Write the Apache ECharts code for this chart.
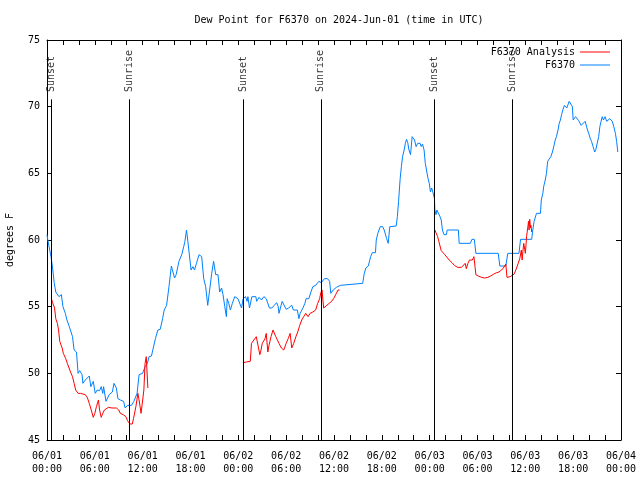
<!DOCTYPE html>
<html>
<head>
<meta charset="utf-8">
<script src="https://cdn.jsdelivr.net/npm/echarts@6/dist/echarts.min.js"></script>
<style>html,body{margin:0;padding:0;background:#fff}#c{width:640px;height:480px}</style>
</head>
<body>
<div id="c"></div>
<script>
// hours since 2024-06-01 00:00 UTC
var obsHours = [0.0,0.1,0.5,0.7,0.9,1.1,1.5,1.8,2.0,2.3,2.5,2.8,3.0,3.2,3.4,3.7,3.9,4.1,4.4,4.5,4.8,5.3,5.5,5.8,6.05,6.3,6.6,6.8,7.0,7.1,7.4,7.8,8.2,8.4,8.7,8.9,9.2,9.6,9.8,10.1,10.6,10.9,11.3,11.55,11.8,12.0,12.3,12.6,12.8,13.1,13.6,13.9,14.2,14.5,14.7,15.0,15.3,15.6,15.8,16.0,16.2,16.55,16.9,17.15,17.3,17.5,17.65,17.9,18.07,18.3,18.5,18.75,19.07,19.4,19.66,19.9,20.16,20.4,20.66,20.9,21.16,21.45,21.66,21.9,22.08,22.3,22.5,22.6,22.8,23.0,23.25,23.55,23.95,24.17,24.4,24.6,24.9,25.1,25.2,25.4,25.7,25.9,26.2,26.3,26.6,26.9,27.2,27.5,27.7,27.9,28.2,28.5,28.8,29.0,29.1,29.5,29.7,30.0,30.3,30.7,30.9,31.4,31.6,31.75,31.9,32.1,32.35,32.5,32.85,33.1,33.35,33.7,33.9,34.1,34.4,34.8,35.2,35.45,35.6,35.9,36.3,36.8,37.0,39.6,39.8,40.0,40.3,40.6,40.8,41.2,41.3,41.5,41.8,42.1,42.3,42.6,42.8,43.0,43.8,43.95,44.1,44.3,44.45,44.6,44.8,44.95,45.1,45.25,45.4,45.6,45.8,45.95,46.1,46.3,46.5,46.65,46.8,46.95,47.1,47.3,47.45,47.6,47.8,47.95,48.1,48.25,48.4,48.6,48.65,48.8,48.9,49.1,49.3,49.45,49.6,49.8,50.1,50.2,51.6,51.7,53.1,53.3,53.6,53.8,56.6,56.8,57.55,57.8,59.2,59.4,60.8,60.9,61.1,61.4,61.9,62.0,62.2,62.3,62.5,62.65,62.8,63.0,63.2,63.4,63.6,63.75,63.9,64.1,64.25,64.4,64.55,64.7,64.9,65.0,65.2,65.3,65.5,65.6,65.9,66.0,66.2,66.3,66.5,66.7,67.0,67.25,67.5,67.65,67.8,68.0,68.15,68.3,68.5,68.7,68.85,69.0,69.2,69.35,69.5,69.65,69.8,70.0,70.2,70.4,70.6,70.75,70.9,71.1,71.3,71.45,71.6];
var obsValues = [60.4,60.0,58.75,57.9,56.8,56.1,55.75,55.9,55.0,54.5,54.0,53.5,53.6,52.75,51.75,51.6,50.0,50.2,49.9,49.25,49.5,49.8,49.0,49.4,48.5,48.75,48.7,49.0,48.5,49.0,47.9,48.4,48.6,49.25,48.9,48.1,48.0,47.9,47.4,47.6,47.6,47.9,48.5,49.9,49.75,50.0,50.5,50.75,51.25,51.3,52.6,53.25,53.3,54.1,54.75,55.1,56.5,58.05,58.0,57.15,57.4,58.4,58.9,59.5,59.9,60.75,60.0,60.1,57.75,58.0,57.75,58.25,58.9,58.75,57.1,56.5,55.1,54.95,57.5,58.4,57.4,57.4,56.1,56.4,55.9,55.0,54.25,55.6,55.25,54.75,55.25,55.75,55.6,55.75,54.9,55.6,55.75,55.4,55.75,54.9,55.75,55.6,55.75,55.4,55.7,55.5,55.75,55.6,55.7,54.9,54.9,55.1,55.3,55.0,54.5,55.4,55.3,54.8,54.9,55.1,54.75,54.75,54.1,54.5,54.6,54.9,55.25,55.6,55.6,56.1,56.5,56.6,56.75,56.9,56.8,57.1,57.1,56.9,56.0,56.25,56.45,56.6,56.75,56.75,57.5,57.9,58.05,58.75,59.05,59.05,60.0,60.5,61.0,61.0,60.75,60.1,59.75,61.0,61.05,61.75,62.9,64.6,65.5,66.25,66.75,67.25,67.55,67.3,66.75,66.4,67.75,67.85,67.5,67.0,67.25,67.1,67.25,67.0,67.2,66.75,65.75,65.25,64.6,64.25,63.6,63.9,63.6,63.1,62.25,61.9,62.25,62.2,61.75,61.5,60.75,60.4,60.4,60.75,60.75,59.75,59.75,60.05,60.05,59.0,59.0,58.05,58.05,59.0,59.0,60.05,60.05,60.6,61.4,62.0,62.0,63.0,63.5,64.0,64.5,65.0,65.9,66.0,66.25,66.6,67.1,67.5,67.75,68.25,68.75,69.0,69.4,69.75,70.1,70.25,69.9,69.75,70.4,70.5,70.0,69.0,69.1,69.25,69.25,68.95,68.6,68.65,68.9,68.75,68.25,67.9,67.6,67.4,67.0,66.6,66.8,66.95,67.75,68.5,68.9,69.25,69.0,69.25,68.9,68.95,69.1,69.25,68.9,68.5,68.0,67.4,66.6];

var analysisHours = [0.55,0.7,0.95,1.1,1.3,1.45,1.6,1.9,2.05,2.35,2.55,2.8,2.95,3.2,3.4,3.6,3.9,4.2,4.8,5.05,5.3,5.55,5.8,6.0,6.2,6.45,6.6,6.8,7.0,7.2,7.7,8.15,8.7,9.0,9.2,9.55,9.9,10.1,10.4,10.7,10.85,11.15,11.4,11.55,11.8,12.0,12.15,12.3,12.45,12.55,12.65,18.0,24.6,25.0,25.5,25.65,25.9,26.25,26.5,26.7,26.85,27.0,27.35,27.5,27.7,27.85,28.1,28.35,28.5,28.7,29.1,29.4,29.7,30.0,30.25,30.5,30.7,30.95,31.25,31.45,31.7,31.95,32.2,32.45,32.6,32.75,33.0,33.35,33.7,33.95,34.2,34.35,34.5,34.7,35.0,35.4,35.7,35.95,36.3,36.5,36.7,42.0,48.65,48.8,49.0,49.15,49.3,49.45,49.6,49.9,50.1,50.45,50.8,51.1,51.5,51.7,52.0,52.2,52.45,52.6,52.8,53.0,53.2,53.35,53.55,53.7,53.8,54.1,54.5,54.9,55.3,55.65,56.05,56.4,56.7,56.95,57.2,57.4,57.55,57.7,57.8,58.1,58.3,58.6,58.9,59.1,59.3,59.5,59.6,59.7,59.8,60.0,60.1,60.15,60.3,60.4,60.47,60.55,60.65,60.7,60.8];
var analysisValues = [55.6,55.3,54.9,54.1,53.75,53.25,52.4,51.9,51.5,51.1,50.75,50.6,50.1,49.75,49.25,48.75,48.5,48.5,48.4,48.2,47.75,47.25,46.7,47.0,47.5,48.0,47.25,46.7,47.0,47.25,47.45,47.4,47.4,47.25,47.0,46.9,46.75,46.45,46.2,46.2,46.6,47.5,48.5,48.0,47.0,48.0,48.75,50.75,51.25,51.1,48.9,null,50.8,50.85,50.9,52.25,52.4,52.75,52.9,51.4,51.75,52.25,52.6,53.0,51.6,52.1,52.75,53.25,53.4,52.75,52.25,51.9,51.75,52.25,52.6,53.0,51.9,52.25,52.8,53.1,53.6,54.0,54.25,54.5,54.55,54.25,54.5,54.6,54.75,55.25,55.6,56.05,56.25,54.9,55.05,55.25,55.4,55.6,56.0,56.25,56.25,null,60.75,60.6,60.25,59.9,59.55,59.2,59.05,58.9,58.75,58.5,58.3,58.1,57.95,57.85,57.95,58.1,58.25,57.85,58.25,58.5,58.6,58.5,58.75,57.95,57.4,57.3,57.2,57.15,57.2,57.3,57.45,57.55,57.6,57.75,57.85,57.95,58.2,57.2,57.15,57.25,57.4,57.45,57.9,58.25,58.6,59.25,58.5,59.2,59.75,59.0,59.75,60.25,60.9,61.4,60.75,61.55,60.9,61.1,60.6];

var eventHours = [0.55, 10.3, 24.6, 34.35, 48.6, 58.4];
var eventNames = ['Sunset', 'Sunrise', 'Sunset', 'Sunrise', 'Sunset', 'Sunrise'];

var FONT = 'DejaVu Sans Mono';
function pad(n){ return (n < 10 ? '0' : '') + n; }
function fmtHour(h){
  var day = 1 + Math.floor(h / 24);
  var hr = Math.round(h % 24);
  return '06/' + pad(day) + '\n' + pad(hr) + ':00';
}
function zip(a, b){ return a.map(function(v, i){ return [v, b[i] === null ? '-' : b[i]]; }); }

var eventLines = eventHours.map(function(h){
  return [{coord: [h, 70.55]}, {coord: [h, 45]}];
});
var eventLabels = eventHours.map(function(h, i){
  return {value: [h, 71.1], name: eventNames[i]};
});

var chart = echarts.init(document.getElementById('c'), null, {renderer: 'canvas'});
var legendText = {fontFamily: FONT, fontSize: 10, color: '#000'};
chart.setOption({
  animation: false,
  backgroundColor: '#fff',
  textStyle: {fontFamily: FONT, fontSize: 10, color: '#000'},
  title: {
    text: 'Dew Point for F6370 on 2024-Jun-01 (time in UTC)',
    left: 334, top: 10, textAlign: 'center',
    textStyle: {fontFamily: FONT, fontSize: 10, fontWeight: 'normal', color: '#000'}
  },
  legend: [
    {data: [{name: 'F6370 Analysis', icon: 'rect', itemStyle: {color: '#ff0000'}}],
     right: 25, top: 42, align: 'right', itemWidth: 30, itemHeight: 1, itemGap: 0,
     textStyle: legendText, selectedMode: false},
    {data: [{name: 'F6370', icon: 'rect', itemStyle: {color: '#0080ff'}}],
     right: 25, top: 55, align: 'right', itemWidth: 30, itemHeight: 1, itemGap: 0,
     textStyle: legendText, selectedMode: false}
  ],
  grid: {left: 47, right: 19, top: 40, bottom: 40, show: false, containLabel: false, outerBoundsMode: 'none'},
  xAxis: [
    {type: 'value', min: 0, max: 72, interval: 6, position: 'bottom',
     axisLine: {show: true, onZero: false, lineStyle: {color: '#000'}},
     axisTick: {show: true, inside: true, length: 5, lineStyle: {color: '#000'}},
     minorTick: {show: true, splitNumber: 3, length: 5, lineStyle: {color: '#000'}},
     splitLine: {show: false},
     axisLabel: {formatter: fmtHour, fontFamily: FONT, fontSize: 10, color: '#000', margin: 10, lineHeight: 13}},
    {type: 'value', min: 0, max: 72, interval: 6, position: 'top',
     axisLine: {show: true, onZero: false, lineStyle: {color: '#000'}},
     axisTick: {show: true, inside: true, length: 5, lineStyle: {color: '#000'}},
     minorTick: {show: true, splitNumber: 3, length: 5, lineStyle: {color: '#000'}},
     splitLine: {show: false}, axisLabel: {show: false}}
  ],
  yAxis: [
    {type: 'value', min: 45, max: 75, interval: 5, position: 'left',
     name: 'degrees F', nameLocation: 'middle', nameGap: 32,
     nameTextStyle: {fontFamily: FONT, fontSize: 10, color: '#000'},
     axisLine: {show: true, onZero: false, lineStyle: {color: '#000'}},
     axisTick: {show: true, inside: true, length: 5, lineStyle: {color: '#000'}},
     splitLine: {show: false},
     axisLabel: {fontFamily: FONT, fontSize: 10, color: '#000', margin: 7}},
    {type: 'value', min: 45, max: 75, interval: 5, position: 'right',
     axisLine: {show: true, onZero: false, lineStyle: {color: '#000'}},
     axisTick: {show: true, inside: true, length: 5, lineStyle: {color: '#000'}},
     splitLine: {show: false}, axisLabel: {show: false}}
  ],
  series: [
    {name: 'F6370 Analysis', type: 'line', data: zip(analysisHours, analysisValues),
     symbol: 'none', connectNulls: false, lineStyle: {color: '#ff0000', width: 1}, itemStyle: {color: '#ff0000'}, z: 3},
    {name: 'F6370', type: 'line', data: zip(obsHours, obsValues),
     symbol: 'none', lineStyle: {color: '#0080ff', width: 1}, itemStyle: {color: '#0080ff'}, z: 2,
     markLine: {silent: true, symbol: ['none', 'none'], label: {show: false},
       lineStyle: {color: '#000', width: 1, type: 'solid'}, data: eventLines}},
    {name: 'events', type: 'scatter', data: eventLabels, symbolSize: 0, silent: true,
     label: {show: true, position: 'top', distance: 0, rotate: 90, align: 'left', verticalAlign: 'middle',
       formatter: function(p){ return p.name; },
       fontFamily: FONT, fontSize: 10, color: '#000'}}
  ]
});
</script>
</body>
</html>
